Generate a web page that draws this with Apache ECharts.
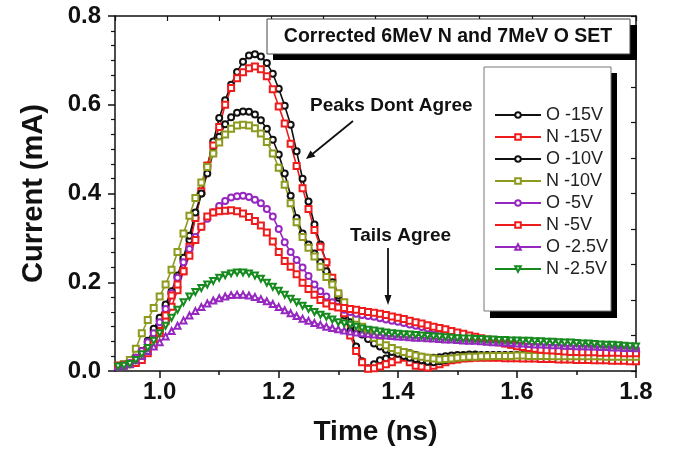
<!DOCTYPE html>
<html>
<head>
<meta charset="utf-8">
<script src="https://cdn.jsdelivr.net/npm/echarts@6/dist/echarts.min.js"></script>
<style>html,body{margin:0;padding:0;background:#fff}#chart{width:681px;height:451px}</style>
</head>
<body>
<div id="chart"></div>
<script>
var time = [0.93,0.94,0.95,0.96,0.97,0.98,0.99,
  1.00,1.01,1.02,1.03,1.04,1.05,1.06,1.07,1.08,1.09,
  1.10,1.11,1.12,1.13,1.14,1.15,1.16,1.17,1.18,1.19,
  1.20,1.21,1.22,1.23,1.24,1.25,1.26,1.27,1.28,1.29,
  1.30,1.31,1.32,1.33,1.34,1.35,1.36,1.37,1.38,1.39,
  1.40,1.41,1.42,1.43,1.44,1.45,1.46,1.47,1.48,1.49,
  1.50,1.51,1.52,1.53,1.54,1.55,1.56,1.57,1.58,1.59,
  1.60,1.61,1.62,1.63,1.64,1.65,1.66,1.67,1.68,1.69,
  1.70,1.71,1.72,1.73,1.74,1.75,1.76,1.77,1.78,1.79,
  1.80];

var o15 = [0.010,0.012,0.020,0.030,0.045,0.065,0.090,
  0.115,0.145,0.175,0.210,0.250,0.295,0.345,0.400,0.462,0.517,
  0.570,0.610,0.645,0.674,0.697,0.711,0.714,0.709,0.694,0.670,
  0.636,0.598,0.555,0.495,0.433,0.382,0.330,0.285,0.245,0.205,
  0.165,0.125,0.090,0.055,0.022,0.006,0.015,0.024,0.028,0.034,
  0.040,0.042,0.040,0.036,0.032,0.030,0.030,0.031,0.033,0.035,
  0.036,0.036,0.037,0.037,0.036,0.036,0.035,0.035,0.035,0.034,
  0.034,0.034,0.033,0.033,0.033,0.032,0.032,0.032,0.031,0.031,
  0.031,0.030,0.030,0.030,0.030,0.029,0.029,0.029,0.029,0.028,
  0.028];
var n15 = [0.012,0.015,0.018,0.022,0.032,0.048,0.070,
  0.090,0.112,0.145,0.182,0.225,0.280,0.345,0.405,0.463,0.508,
  0.550,0.600,0.638,0.660,0.673,0.682,0.686,0.680,0.664,0.635,
  0.596,0.558,0.512,0.462,0.412,0.365,0.318,0.280,0.245,0.210,
  0.172,0.130,0.080,0.045,0.020,0.005,0.006,0.010,0.015,0.020,
  0.026,0.030,0.020,0.012,0.010,0.008,0.012,0.015,0.020,0.024,
  0.026,0.028,0.029,0.030,0.030,0.030,0.030,0.030,0.029,0.029,
  0.029,0.028,0.028,0.028,0.027,0.027,0.027,0.026,0.026,0.026,
  0.025,0.025,0.025,0.024,0.024,0.024,0.023,0.023,0.023,0.022,
  0.022];
var o10 = [0.010,0.012,0.018,0.028,0.045,0.068,0.095,
  0.120,0.150,0.180,0.215,0.255,0.305,0.357,0.400,0.445,0.492,
  0.528,0.556,0.572,0.582,0.585,0.584,0.578,0.565,0.546,0.521,
  0.488,0.445,0.395,0.345,0.310,0.285,0.265,0.245,0.225,0.200,
  0.170,0.140,0.110,0.095,0.082,0.072,0.062,0.055,0.048,0.043,
  0.039,0.034,0.030,0.027,0.024,0.021,0.020,0.022,0.025,0.028,
  0.030,0.031,0.032,0.033,0.034,0.035,0.036,0.036,0.036,0.036,
  0.036,0.036,0.036,0.035,0.035,0.035,0.035,0.035,0.034,0.034,
  0.034,0.034,0.034,0.034,0.033,0.033,0.033,0.033,0.033,0.033,
  0.033];
var n10 = [0.012,0.015,0.025,0.050,0.085,0.115,0.142,
  0.168,0.195,0.228,0.268,0.310,0.350,0.390,0.425,0.460,0.490,
  0.515,0.533,0.546,0.553,0.555,0.553,0.547,0.535,0.516,0.490,
  0.458,0.420,0.378,0.335,0.302,0.278,0.258,0.235,0.212,0.195,
  0.175,0.155,0.138,0.118,0.100,0.086,0.075,0.066,0.058,0.052,
  0.047,0.043,0.039,0.035,0.032,0.030,0.028,0.026,0.027,0.028,
  0.030,0.031,0.032,0.032,0.033,0.033,0.034,0.034,0.034,0.034,
  0.035,0.035,0.034,0.034,0.034,0.034,0.033,0.033,0.033,0.033,
  0.033,0.033,0.033,0.033,0.033,0.032,0.032,0.032,0.032,0.032,
  0.032];
var o5 = [0.010,0.012,0.018,0.030,0.045,0.065,0.085,
  0.110,0.140,0.175,0.210,0.245,0.275,0.302,0.325,0.343,0.358,
  0.372,0.383,0.391,0.394,0.395,0.392,0.386,0.378,0.365,0.348,
  0.320,0.290,0.268,0.250,0.233,0.214,0.195,0.180,0.168,0.155,
  0.145,0.138,0.133,0.129,0.126,0.124,0.122,0.119,0.116,0.113,
  0.111,0.108,0.105,0.102,0.099,0.096,0.094,0.091,0.088,0.085,
  0.082,0.079,0.076,0.073,0.070,0.068,0.066,0.064,0.062,0.060,
  0.058,0.057,0.056,0.055,0.054,0.054,0.053,0.053,0.052,0.052,
  0.052,0.051,0.051,0.051,0.050,0.050,0.050,0.050,0.049,0.049,
  0.049];
var n5 = [0.012,0.013,0.015,0.018,0.025,0.040,0.060,
  0.085,0.125,0.170,0.195,0.225,0.260,0.295,0.325,0.348,0.357,
  0.360,0.361,0.362,0.360,0.355,0.347,0.338,0.328,0.312,0.292,
  0.268,0.248,0.235,0.218,0.199,0.185,0.172,0.160,0.152,0.146,
  0.143,0.142,0.140,0.138,0.135,0.133,0.131,0.129,0.126,0.123,
  0.120,0.117,0.113,0.110,0.107,0.103,0.100,0.097,0.094,0.090,
  0.087,0.084,0.080,0.077,0.074,0.071,0.068,0.065,0.062,0.059,
  0.056,0.054,0.052,0.050,0.048,0.047,0.046,0.045,0.044,0.043,
  0.043,0.042,0.042,0.042,0.041,0.041,0.041,0.041,0.040,0.040,
  0.040];
var o25 = [0.010,0.012,0.016,0.024,0.034,0.045,0.055,
  0.065,0.078,0.090,0.102,0.114,0.125,0.135,0.144,0.152,0.159,
  0.164,0.168,0.171,0.172,0.172,0.170,0.167,0.162,0.157,0.151,
  0.144,0.137,0.130,0.124,0.118,0.113,0.108,0.104,0.100,0.097,
  0.094,0.091,0.089,0.087,0.085,0.084,0.082,0.081,0.080,0.079,
  0.078,0.077,0.076,0.075,0.075,0.074,0.073,0.072,0.071,0.071,
  0.070,0.069,0.068,0.068,0.067,0.066,0.065,0.065,0.064,0.063,
  0.062,0.062,0.061,0.060,0.060,0.059,0.058,0.058,0.057,0.057,
  0.056,0.056,0.055,0.055,0.054,0.054,0.053,0.053,0.052,0.052,
  0.051];
var n25 = [0.010,0.012,0.016,0.025,0.038,0.052,0.068,
  0.085,0.102,0.120,0.138,0.155,0.168,0.178,0.187,0.195,0.203,
  0.210,0.216,0.220,0.222,0.222,0.220,0.215,0.208,0.199,0.190,
  0.181,0.172,0.163,0.155,0.147,0.140,0.133,0.127,0.122,0.116,
  0.110,0.107,0.104,0.100,0.096,0.093,0.091,0.089,0.087,0.085,
  0.084,0.083,0.082,0.081,0.080,0.079,0.078,0.077,0.076,0.075,
  0.074,0.073,0.073,0.072,0.072,0.071,0.071,0.070,0.070,0.069,
  0.069,0.068,0.068,0.067,0.067,0.066,0.066,0.065,0.064,0.064,
  0.063,0.062,0.062,0.061,0.060,0.059,0.059,0.058,0.057,0.056,
  0.055];

var xLabels = [1.0, 1.2, 1.4, 1.6, 1.8];
var xMinor = [1.1, 1.3, 1.5, 1.7];

var font = 'Liberation Sans, Arial, sans-serif';

function mk(name, vals, color, symbol, rot) {
  return {
    name: name,
    type: 'line',
    xAxisIndex: 0,
    yAxisIndex: 0,
    data: time.map(function (t, i) { return [t, vals[i]]; }),
    symbol: symbol,
    symbolSize: 6,
    symbolRotate: rot || 0,
    lineStyle: { color: color, width: 1.6 },
    itemStyle: { color: color, borderWidth: 1.3 },
    emphasis: { disabled: true },
    animation: false
  };
}

var chart = echarts.init(document.getElementById('chart'));
chart.setOption({
  backgroundColor: '#fff',
  textStyle: { fontFamily: font },
  grid: { left: 115, top: 16, width: 521, height: 355 },
  xAxis: [
    {
      type: 'value', min: 0.925, max: 1.8, position: 'bottom',
      name: 'Time (ns)', nameLocation: 'middle', nameGap: 47,
      nameTextStyle: { color: '#111', fontSize: 28, fontWeight: 'bold', fontFamily: font },
      axisLine: { lineStyle: { color: '#111', width: 1.5 } },
      axisTick: { customValues: xLabels, length: 7, lineStyle: { color: '#111', width: 1.5 } },
      axisLabel: { customValues: xLabels, margin: 9, color: '#111', fontSize: 24, fontWeight: 'bold',
        formatter: function (v) { return v.toFixed(1); } },
      splitLine: { show: false }
    },
    {
      type: 'value', min: 0.925, max: 1.8, position: 'bottom',
      axisLine: { show: false },
      axisTick: { customValues: xMinor, length: 4, lineStyle: { color: '#111', width: 1.5 } },
      axisLabel: { show: false },
      splitLine: { show: false }
    },
    {
      type: 'value', min: 0, max: 10, interval: 1, position: 'top',
      axisLine: { lineStyle: { color: '#111', width: 1.5 } },
      axisTick: { inside: true, length: 5, lineStyle: { color: '#111', width: 1.2 } },
      axisLabel: { show: false },
      splitLine: { show: false }
    }
  ],
  yAxis: [
    {
      type: 'value', min: 0, max: 0.8, interval: 0.2,
      name: 'Current (mA)', nameLocation: 'middle', nameGap: 67,
      nameTextStyle: { color: '#111', fontSize: 29, fontWeight: 'bold', fontFamily: font },
      axisLine: { show: true, lineStyle: { color: '#111', width: 1.5 } },
      axisTick: { length: 7, lineStyle: { color: '#111', width: 1.5 } },
      minorTick: { show: true, splitNumber: 6, length: 4, lineStyle: { color: '#111', width: 1.2 } },
      axisLabel: { margin: 14, color: '#111', fontSize: 24, fontWeight: 'bold',
        formatter: function (v) { return v.toFixed(1); } },
      splitLine: { show: false }
    },
    {
      type: 'value', min: 0, max: 10, interval: 1, position: 'right',
      axisLine: { show: true, lineStyle: { color: '#111', width: 1.5 } },
      axisTick: { inside: true, length: 5, lineStyle: { color: '#111', width: 1.2 } },
      axisLabel: { show: false },
      splitLine: { show: false }
    }
  ],
  legend: {
    orient: 'vertical', left: 489, top: 101, z: 20,
    itemWidth: 46, itemHeight: 7, itemGap: 4,
    textStyle: { fontSize: 18, color: '#222', fontFamily: font },
    data: ['O -15V', 'N -15V', 'O -10V', 'N -10V', 'O -5V', 'N -5V', 'O -2.5V', 'N -2.5V']
  },
  graphic: [
    { type: 'rect', z: 10, shape: { x: 273, y: 25, width: 364, height: 35 }, style: { fill: '#000' } },
    { type: 'rect', z: 11, shape: { x: 267, y: 19, width: 363, height: 35 }, style: { fill: '#fff', stroke: '#444', lineWidth: 1 } },
    { type: 'text', z: 12, x: 448, y: 37, style: { text: 'Corrected 6MeV N and 7MeV O SET', fill: '#111',
        font: 'bold 19.5px ' + font, textAlign: 'center', textVerticalAlign: 'middle' } },
    { type: 'rect', z: 10, shape: { x: 490, y: 73, width: 127, height: 245 }, style: { fill: '#000' } },
    { type: 'rect', z: 11, shape: { x: 484, y: 67, width: 127, height: 244 }, style: { fill: '#fff', stroke: '#777', lineWidth: 1 } },
    { type: 'text', z: 12, x: 310, y: 106, style: { text: 'Peaks Dont Agree', fill: '#111',
        font: 'bold 19px ' + font, textVerticalAlign: 'middle' } },
    { type: 'line', z: 12, shape: { x1: 353, y1: 121, x2: 310, y2: 156 }, style: { stroke: '#111', lineWidth: 1.8 } },
    { type: 'polygon', z: 12, shape: { points: [[306, 159], [315.5, 156.5], [310.5, 150.5]] }, style: { fill: '#111' } },
    { type: 'text', z: 12, x: 350, y: 236, style: { text: 'Tails Agree', fill: '#111',
        font: 'bold 19px ' + font, textVerticalAlign: 'middle' } },
    { type: 'line', z: 12, shape: { x1: 388, y1: 248, x2: 388, y2: 298 }, style: { stroke: '#111', lineWidth: 1.8 } },
    { type: 'polygon', z: 12, shape: { points: [[388, 305], [384.5, 295], [391.5, 295]] }, style: { fill: '#111' } }
  ],
  series: [
    mk('O -15V', o15, '#111111', 'emptyCircle'),
    mk('N -15V', n15, '#ee1c1c', 'emptyRect'),
    mk('O -10V', o10, '#111111', 'emptyCircle'),
    mk('N -10V', n10, '#8c9a1e', 'emptyRect'),
    mk('O -5V', o5, '#9628bf', 'emptyCircle'),
    mk('N -5V', n5, '#ee1c1c', 'emptyRect'),
    mk('O -2.5V', o25, '#9628bf', 'emptyTriangle'),
    mk('N -2.5V', n25, '#168a1e', 'emptyTriangle', 180)
  ]
});
</script>
</body>
</html>
